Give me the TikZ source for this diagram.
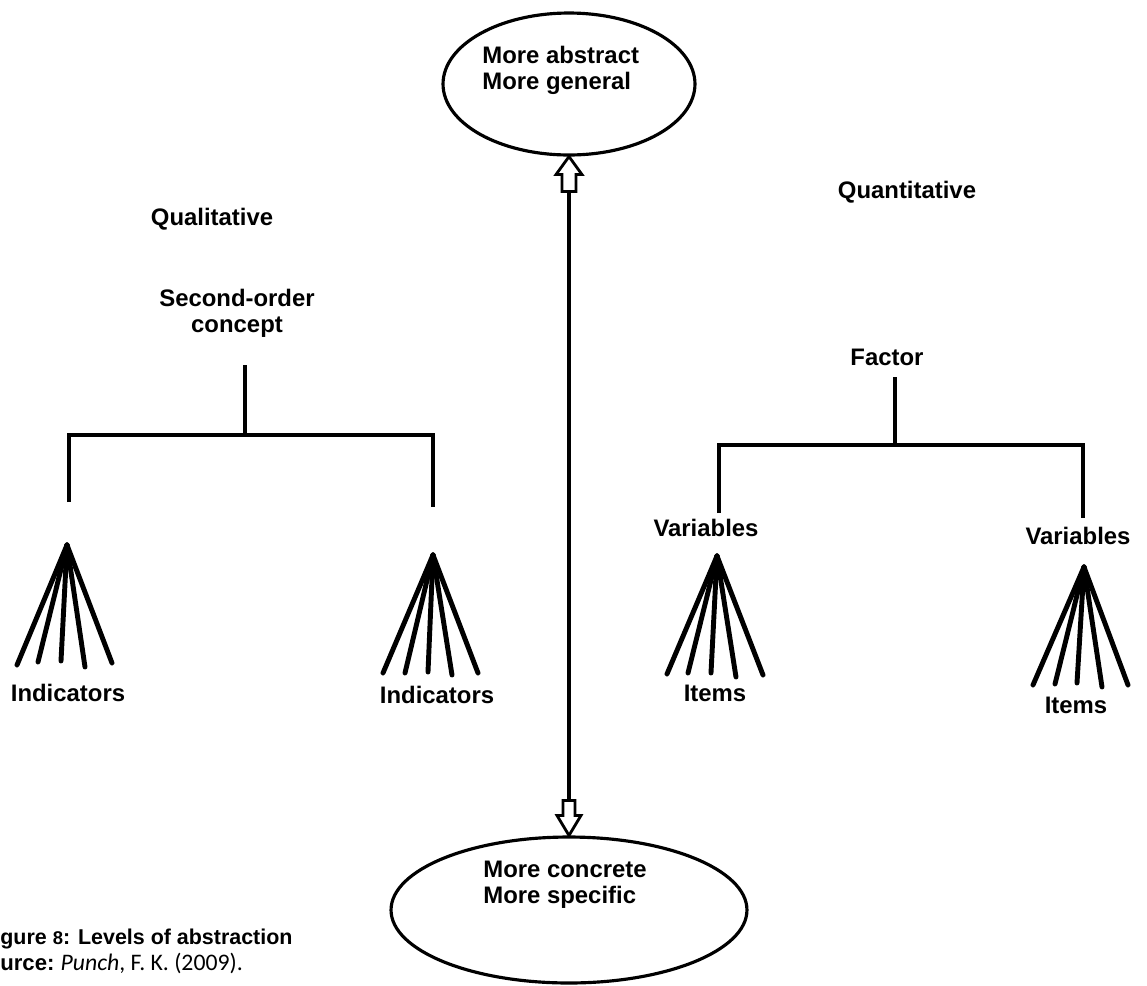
\documentclass[tikz,border=0pt]{standalone}
\usepackage{fontspec}
\setmainfont{Liberation Sans}
\newfontfamily\calfont{Carlito}
\usetikzlibrary{shapes.geometric}
\begin{document}
\begin{tikzpicture}[x=0.02cm,y=-0.02cm,
  lbl/.style={font=\fontsize{13.6}{14.8}\selectfont\bfseries, inner sep=0pt, align=center},
  oval/.style={draw, ellipse, line width=1.8pt, inner sep=0pt},
  tree/.style={line width=2.5pt},
  fan/.style={line width=2.8pt, line cap=round},
  blockarr/.style={draw, fill=white, line width=1.6pt, line join=miter},
  shaft/.style={line width=1.9pt}]
\useasboundingbox (0,0) rectangle (1147,985);

% ellipses
\node[oval, minimum width=5.04cm, minimum height=2.84cm] (top) at (569,84) {};
\node[lbl, align=left, anchor=west] (toptxt) at (482,70) {More abstract\\More general};
\node[oval, minimum width=7.12cm, minimum height=2.92cm] (bot) at (569,910) {};
\node[lbl, align=left, anchor=west] (bottxt) at (483,885) {More concrete\\More specific};

% double block arrow
\coordinate (a1) at ([shift={(0,35)}]top.south);
\coordinate (a2) at ([shift={(0,-35)}]bot.north);
\draw[shaft] (a1) -- (a2);
\draw[blockarr] (top.south) -- ++(-13,18) -- ++(6,0) -- ++(0,17) -- ++(14,0) -- ++(0,-17) -- ++(6,0) -- cycle;
\draw[blockarr] (bot.north) -- ++(-12,-20) -- ++(6,0) -- ++(0,-15) -- ++(12,0) -- ++(0,15) -- ++(6,0) -- cycle;

% left: qualitative
\node[lbl] (qual) at (212,219) {Qualitative};
\node[lbl] (soc) at (237,313) {Second-order\\concept};
\coordinate (ls) at (245,365);
\coordinate (lj) at (245,435);
\coordinate (lL) at (69,435);
\coordinate (lR) at (433,435);
\coordinate (lLb) at (69,502);
\coordinate (lRb) at (433,507);
\draw[tree] (ls) -- (lj);
\draw[tree] (lLb) -- (lL) -- (lR) -- (lRb);

\coordinate (f1) at (67,545);
\foreach \x/\y [count=\i] in {17/665, 38/662, 61/661, 85/667, 112/663}{
  \coordinate (f1e\i) at (\x,\y);
  \draw[fan] (f1) -- (f1e\i);
}
\node[lbl] (ind1) at (68,693) {Indicators};

\coordinate (f2) at (433,555);
\foreach \x/\y [count=\i] in {383/673, 405/673, 428/672, 452/675, 478/673}{
  \coordinate (f2e\i) at (\x,\y);
  \draw[fan] (f2) -- (f2e\i);
}
\node[lbl] (ind2) at (437,695) {Indicators};

% right: quantitative
\node[lbl] (quant) at (907,192) {Quantitative};
\node[lbl] (fac) at (887,357) {Factor};
\coordinate (rs) at (895,377);
\coordinate (rj) at (895,445);
\coordinate (rL) at (719,445);
\coordinate (rR) at (1083,445);
\coordinate (rLb) at (719,513);
\coordinate (rRb) at (1083,518);
\draw[tree] (rs) -- (rj);
\draw[tree] (rLb) -- (rL) -- (rR) -- (rRb);
\node[lbl] (var1) at (706,528) {Variables};
\node[lbl] (var2) at (1078,536) {Variables};

\coordinate (f3) at (717,556);
\foreach \x/\y [count=\i] in {667/674, 688/673, 711/673, 736/677, 763/675}{
  \coordinate (f3e\i) at (\x,\y);
  \draw[fan] (f3) -- (f3e\i);
}
\node[lbl] (it1) at (715,693) {Items};

\coordinate (f4) at (1084,567);
\foreach \x/\y [count=\i] in {1033/685, 1055/684, 1077/683, 1102/687, 1128/685}{
  \coordinate (f4e\i) at (\x,\y);
  \draw[fan] (f4) -- (f4e\i);
}
\node[lbl] (it2) at (1076,705) {Items};

% caption
\node[anchor=base west, inner sep=0pt, font=\fontsize{12.2}{14}\selectfont\bfseries] (cap1) at (0,944)
  {gure {\fontsize{10.5}{10}\selectfont 8}: Levels of abstraction};
\node[anchor=base west, inner sep=0pt, font=\fontsize{12.6}{14}\selectfont] (cap2) at (0,970)
  {\bfseries urce:\ \mdseries\calfont\fontsize{13.5}{14}\selectfont\itshape Punch\upshape, F. K. (2009).};
\end{tikzpicture}
\end{document}
